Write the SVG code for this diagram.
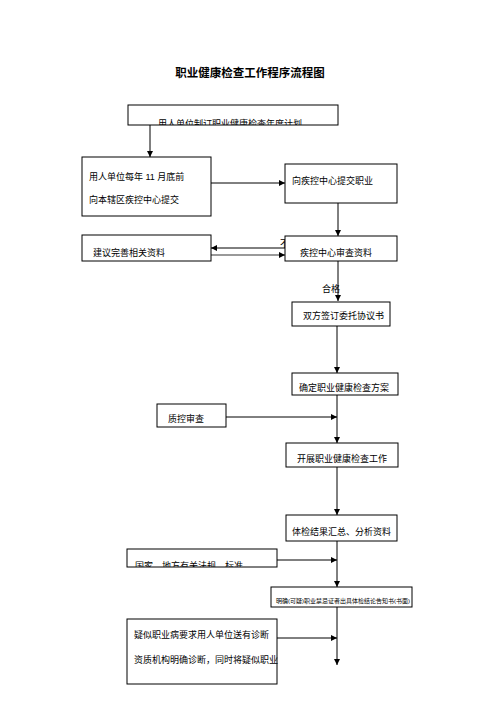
<svg xmlns="http://www.w3.org/2000/svg" width="496" height="702" viewBox="0 0 496 702">
<style>
.box{fill:#fff;stroke:#000;stroke-width:1}
.t{font-family:"Liberation Sans","Noto Sans CJK SC",sans-serif;font-size:9px;fill:#000}
.ln{stroke:#000;stroke-width:1;fill:none}
</style>
<defs>
<marker id="ah" viewBox="0 0 6 6" refX="6" refY="3" markerWidth="6" markerHeight="6" orient="auto" markerUnits="userSpaceOnUse">
<path d="M0,0 L6,3 L0,6 z" fill="#000"/>
</marker>
<marker id="ahg" viewBox="0 0 6 6" refX="6" refY="3" markerWidth="6" markerHeight="6" orient="auto" markerUnits="userSpaceOnUse">
<path d="M0,0 L6,3 L0,6 z" fill="#000"/>
</marker>
<clipPath id="c1"><rect x="128" y="105" width="210" height="20"/></clipPath>
<clipPath id="c10"><rect x="127" y="549" width="150" height="18"/></clipPath>
</defs>
<rect width="496" height="702" fill="#fff"/>
<text x="250" y="77" text-anchor="middle" style="font-family:'Noto Sans CJK SC',sans-serif;font-size:11.5px;font-weight:bold">职业健康检查工作程序流程图</text>

<g id="connectors">
<line class="ln" x1="150" y1="125" x2="150" y2="157" marker-end="url(#ah)"/>
<line class="ln" x1="211" y1="183" x2="285" y2="183" marker-end="url(#ah)"/>
<line class="ln" x1="338" y1="203" x2="338" y2="236" marker-end="url(#ah)"/>
<line class="ln" x1="285" y1="248" x2="211" y2="248" marker-end="url(#ah)"/>
<line x1="211" y1="255" x2="285" y2="255" stroke="#777" stroke-width="1.5" marker-end="url(#ahg)"/>
<text class="t" x="280" y="247">不</text>
<line class="ln" x1="338" y1="261" x2="338" y2="301" marker-end="url(#ah)"/>
<text class="t" x="322" y="292">合格</text>
<line class="ln" x1="337" y1="326" x2="337" y2="373" marker-end="url(#ah)"/>
<line class="ln" x1="337" y1="395" x2="337" y2="443" marker-end="url(#ah)"/>
<line class="ln" x1="226" y1="417" x2="337" y2="417" marker-end="url(#ah)"/>
<line class="ln" x1="337" y1="467" x2="337" y2="515" marker-end="url(#ah)"/>
<line class="ln" x1="337" y1="541" x2="337" y2="587" marker-end="url(#ah)"/>
<line class="ln" x1="277" y1="560" x2="337" y2="560" marker-end="url(#ah)"/>
<line class="ln" x1="337" y1="607" x2="337" y2="665" marker-end="url(#ah)"/>
<line class="ln" x1="277" y1="638" x2="337" y2="638" marker-end="url(#ah)"/>
</g>

<g id="n1">
<rect class="box" x="128" y="105" width="210" height="20"/>
<text class="t" x="158" y="127" clip-path="url(#c1)">用人单位制订职业健康检查年度计划</text>
</g>
<g id="n2">
<rect class="box" x="82" y="157" width="129" height="59"/>
<text class="t" x="89" y="180">用人单位每年 11 月底前</text>
<text class="t" x="89" y="203">向本辖区疾控中心提交</text>
</g>
<g id="n3">
<rect class="box" x="285" y="164" width="112" height="39"/>
<text class="t" x="292" y="184">向疾控中心提交职业</text>
</g>
<g id="n4">
<rect class="box" x="285" y="236" width="112" height="25"/>
<text class="t" x="300" y="256">疾控中心审查资料</text>
</g>
<g id="n5">
<rect class="box" x="82" y="235" width="129" height="26"/>
<text class="t" x="93" y="256">建议完善相关资料</text>
</g>
<g id="n6">
<rect class="box" x="292" y="302" width="98" height="24"/>
<text class="t" x="303" y="319">双方签订委托协议书</text>
</g>
<g id="n7">
<rect class="box" x="292" y="373" width="106" height="22"/>
<text class="t" x="299" y="391">确定职业健康检查方案</text>
</g>
<g id="n8">
<rect class="box" x="157" y="404" width="69" height="23"/>
<text class="t" x="168" y="422">质控审查</text>
</g>
<g id="n9">
<rect class="box" x="286" y="443" width="112" height="24"/>
<text class="t" x="297" y="462">开展职业健康检查工作</text>
</g>
<g id="n10">
<rect class="box" x="286" y="515" width="111" height="26"/>
<text class="t" x="292" y="535">体检结果汇总、分析资料</text>
</g>
<g id="n11">
<rect class="box" x="127" y="549" width="150" height="18"/>
<text class="t" x="135" y="569" clip-path="url(#c10)">国家、地方有关法规、标准</text>
</g>
<g id="n12">
<rect class="box" x="271" y="587" width="141" height="20"/>
<text class="t" x="276" y="603" style="font-size:6px">明确(可疑)职业禁忌证者出具体检结论告知书(书面)</text>
</g>
<g id="n13">
<rect class="box" x="127" y="619" width="150" height="65"/>
<text class="t" x="134" y="638">疑似职业病要求用人单位送有诊断</text>
<text class="t" x="134" y="663">资质机构明确诊断，同时将疑似职业</text>
</g>
</svg>
